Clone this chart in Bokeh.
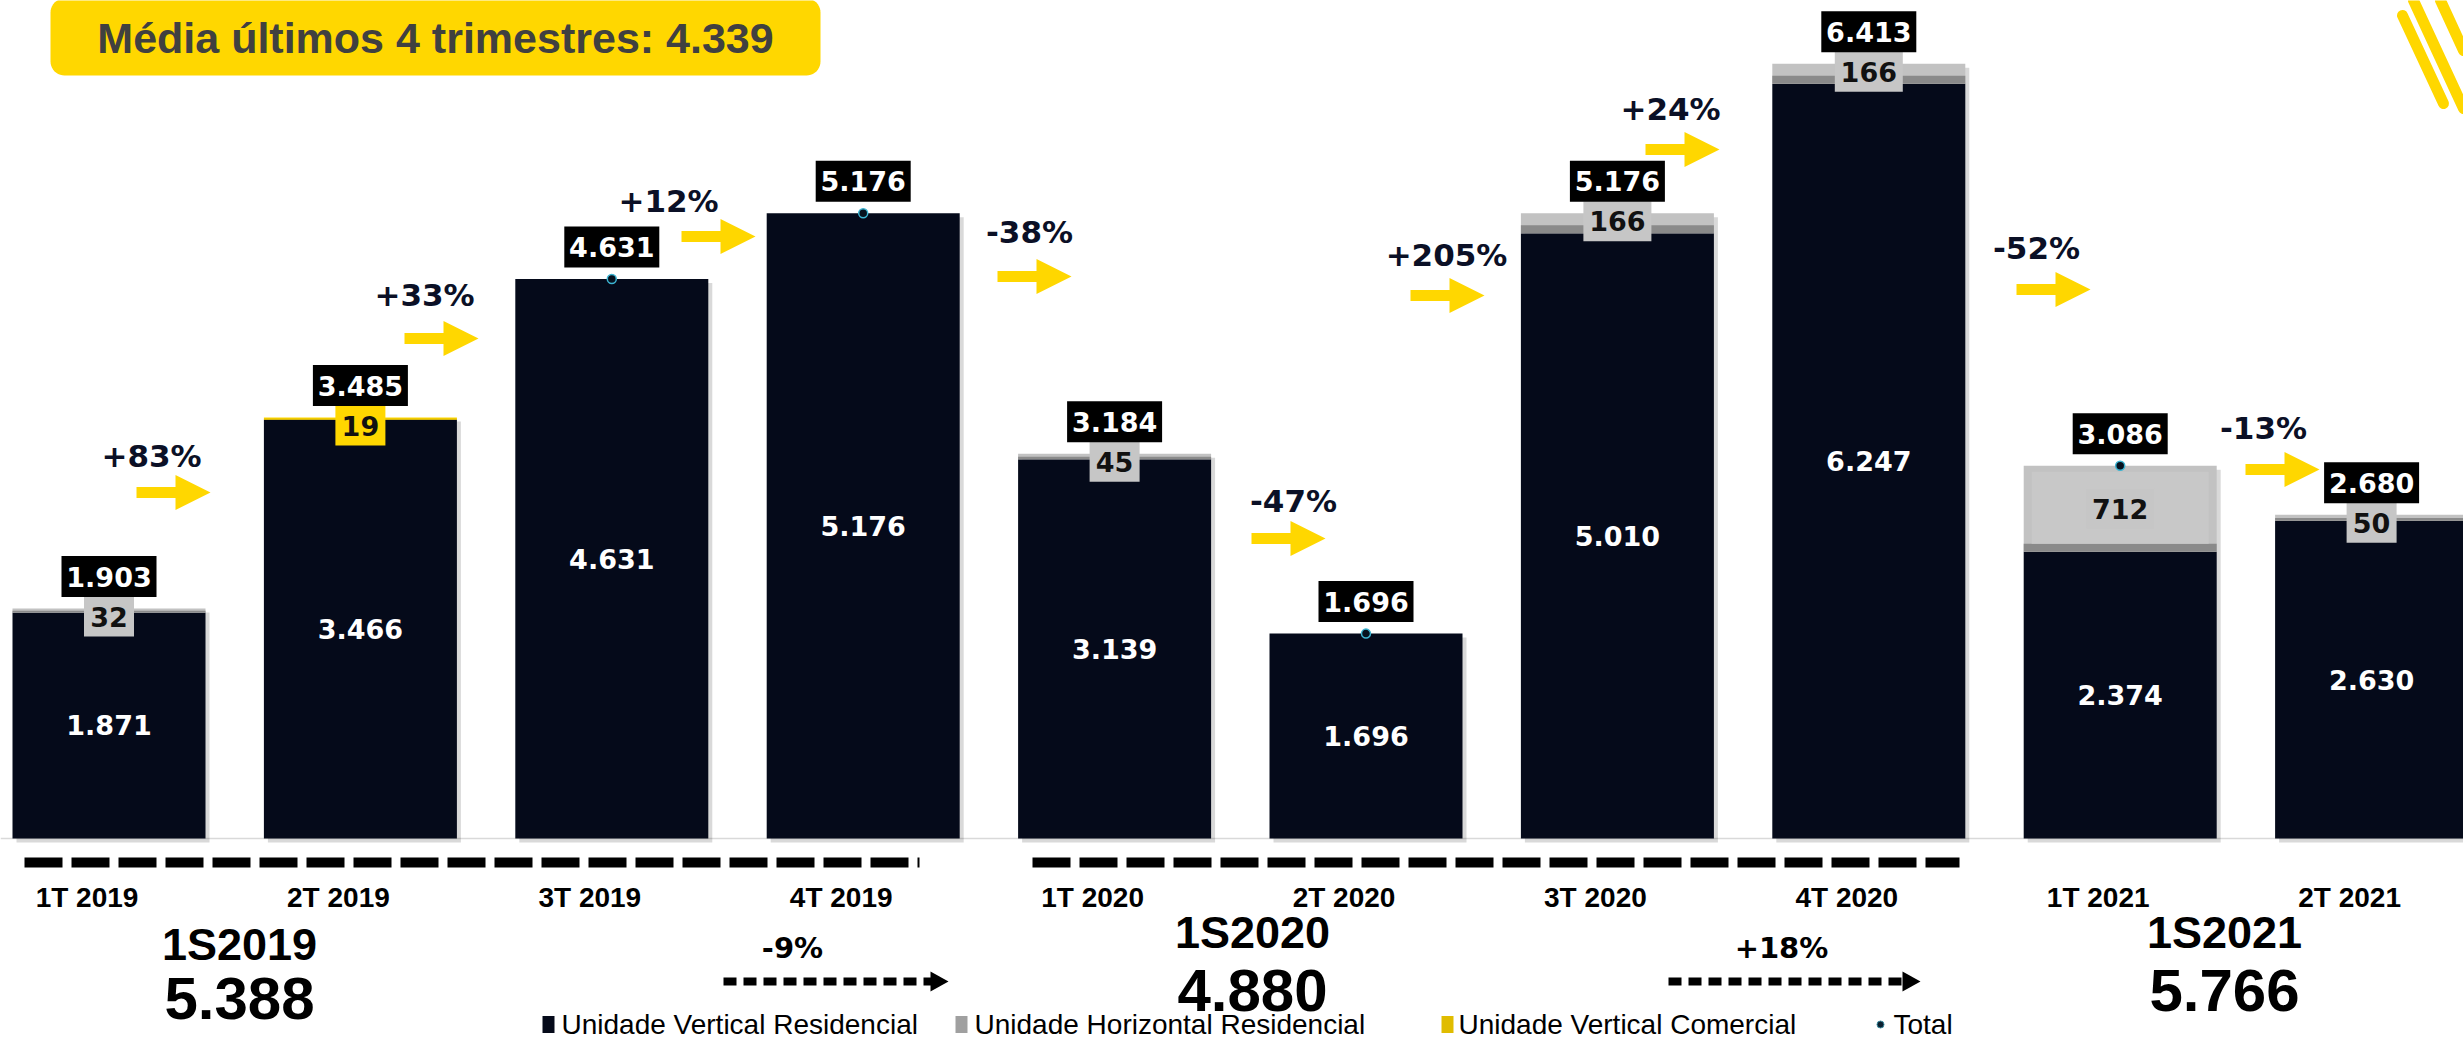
import math
from bokeh.plotting import figure
from bokeh.models import Range1d
from bokeh.embed import file_html
from bokeh.resources import INLINE
from bokeh.core.properties import value

# ---------------- data ----------------
quarters = ["1T 2019", "2T 2019", "3T 2019", "4T 2019", "1T 2020",
            "2T 2020", "3T 2020", "4T 2020", "1T 2021", "2T 2021"]
vertical_residencial = [1871, 3466, 4631, 5176, 3139, 1696, 5010, 6247, 2374, 2630]
horizontal_residencial = [32, 0, 0, 0, 45, 0, 166, 166, 712, 50]
vertical_comercial = [0, 19, 0, 0, 0, 0, 0, 0, 0, 0]
totals = [1903, 3485, 4631, 5176, 3184, 1696, 5176, 6413, 3086, 2680]
qoq_changes = ["+83%", "+33%", "+12%", "-38%", "-47%", "+205%", "+24%", "-52%", "-13%"]
semesters = ["1S2019", "1S2020", "1S2021"]
semester_totals = ["5.388", "4.880", "5.766"]
semester_changes = ["-9%", "+18%"]
headline = "Média últimos 4 trimestres: 4.339"
legend_labels = ["Unidade Vertical Residencial", "Unidade Horizontal Residencial",
                 "Unidade Vertical Comercial", "Total"]

# ---------------- layout (page pixels) ----------------
W, H, M = 2463, 1040, 0
BAR0, STEP, BASE, PXU = 108.5, 251.4, 838.0, 0.1208
BAR_W = 193


def X(px):
    return (px - BAR0) / STEP


def Y(py):
    return (BASE - py) / PXU


def dX(n):
    return n / STEP


def dY(n):
    return n / PXU


DARK = "#050a1a"
YELLOW = "#FFD700"
GREY = "#c2c2c2"
GREY_DK = "#8a8a8a"
NUM_FONT = value("DejaVu Sans")
TXT_FONT = value("Liberation Sans")


def fmt(v):
    return f"{v:,}".replace(",", ".")


p = figure(width=W, height=H, x_range=Range1d(X(M), X(M + W)),
           y_range=Range1d(Y(M + H), Y(M)), output_backend="svg",
           toolbar_location=None, min_border=0, x_axis_location=None,
           y_axis_location=None, outline_line_color=None,
           background_fill_color="white", border_fill_color="white")
p.grid.visible = False

idx = list(range(len(quarters)))
bw = BAR_W / STEP

# ---- headline box ----
def rounded_rect(x0, y0, x1, y1, r, n=10):
    pts = []
    corners = [(x1 - r, y0 + r, -90, 0), (x1 - r, y1 - r, 0, 90),
               (x0 + r, y1 - r, 90, 180), (x0 + r, y0 + r, 180, 270)]
    for cx, cy, a0, a1 in corners:
        for k in range(n + 1):
            a = math.radians(a0 + (a1 - a0) * k / n)
            pts.append((cx + r * math.cos(a), cy + r * math.sin(a)))
    return [X(a) for a, b in pts], [Y(b) for a, b in pts]

bx, by = rounded_rect(50, -2, 820, 75, 14)
p.patch(bx, by, fill_color=YELLOW, line_color=None)
p.text(x=[X(435)], y=[Y(37)], text=[headline], text_font=TXT_FONT,
       text_font_size="43px", text_font_style="bold", text_color="#404040",
       text_align="center", text_baseline="middle")

# ---- decorative stripes top right ----
for (x0, y0, x1, y1) in [(2402, 15, 2443, 103), (2413, 0, 2463, 108), (2440, 0, 2463, 50)]:
    p.line([X(x0), X(x1)], [Y(y0), Y(y1)], line_color=YELLOW, line_width=11, line_cap="round")

# ---- baseline ----
p.line([X(M), X(M + W)], [0, 0], line_color="#d9d9d9", line_width=1.5)

# ---- bars ----
p.vbar(x=[i + dX(4) for i in idx], width=bw, bottom=-dY(4),
       top=[t - dY(4) for t in totals], fill_color="black", fill_alpha=0.15, line_color=None)
p.vbar(x=idx, width=bw, bottom=0, top=vertical_residencial, fill_color=DARK, line_color=None)

seg_x, seg_y, seg_txt, seg_w, seg_fill = [], [], [], [], []
for i in idx:
    base = vertical_residencial[i]
    for vals, col, band in [(horizontal_residencial, GREY, GREY_DK), (vertical_comercial, YELLOW, "#c9a800")]:
        v = vals[i]
        if v <= 0:
            continue
        bot, top = base, base + v
        p.vbar(x=[i], width=bw, bottom=[bot], top=[top], fill_color=col, line_color=None)
        hpx = v * PXU
        bpx = min(8.0, hpx * 0.45)
        p.vbar(x=[i], width=bw, bottom=[bot], top=[bot + dY(bpx)], fill_color=band, line_color=None)
        if hpx > 40:
            p.vbar(x=[i], width=bw - dX(16), bottom=[bot + dY(bpx)], top=[top - dY(6)],
                   fill_color="#c8c8c8", line_color=None)
            yy = (bot + top) / 2
        else:
            yy = top - dY(8)
        s = fmt(v)
        seg_x.append(i)
        seg_y.append(yy)
        seg_txt.append(s)
        seg_w.append(14 + 18 * len(s))
        seg_fill.append("#c6c6c6" if col == GREY else YELLOW)
        base = top

# values inside dark bars
p.text(x=idx, y=[v / 2 for v in vertical_residencial], text=[fmt(v) for v in vertical_residencial],
       text_font=NUM_FONT, text_font_size="27px", text_font_style="bold", text_color="white",
       text_align="center", text_baseline="middle")

# total markers
p.scatter(x=idx, y=totals, marker="circle", size=9, fill_color="#06121f",
          line_color="#3cb4d2", line_width=1.5)

# segment labels
p.rect(x=seg_x, y=seg_y, width=seg_w, height=40, width_units="screen", height_units="screen",
       fill_color=seg_fill, line_color=None)
p.text(x=seg_x, y=seg_y, text=seg_txt, text_font=NUM_FONT, text_font_size="27px",
       text_font_style="bold", text_color="#111111", text_align="center", text_baseline="middle")

# total labels
tot_y = [t + dY(32) for t in totals]
p.rect(x=idx, y=tot_y, width=95, height=41, width_units="screen", height_units="screen",
       fill_color="black", line_color=None)
p.text(x=idx, y=tot_y, text=[fmt(t) for t in totals], text_font=NUM_FONT, text_font_size="27px",
       text_font_style="bold", text_color="white", text_align="center", text_baseline="middle")

# ---- quarter-on-quarter change annotations ----
arrow_pos = [(173, 492), (441, 338), (718, 236), (1034, 276), (1288, 538),
             (1447, 295), (1682, 149), (2053, 289), (2282, 469)]
text_pos = [(151, 455), (424, 294), (668, 200), (1029, 231), (1293, 500),
            (1446, 254), (1670, 108), (2036, 247), (2263, 427)]
axs, ays = [], []
for cx, cy in arrow_pos:
    pts = [(cx - 37, cy - 5.5), (cx + 2, cy - 5.5), (cx + 2, cy - 17.5), (cx + 37, cy),
           (cx + 2, cy + 17.5), (cx + 2, cy + 5.5), (cx - 37, cy + 5.5)]
    axs.append([X(a) for a, b in pts])
    ays.append([Y(b) for a, b in pts])
p.patches(axs, ays, fill_color=YELLOW, line_color=None)
p.text(x=[X(a) for a, b in text_pos], y=[Y(b) for a, b in text_pos], text=qoq_changes,
       text_font=NUM_FONT, text_font_size="31px", text_font_style="bold", text_color="#0b1026",
       text_align="center", text_baseline="middle")

# ---- bottom: dashed brackets, quarter labels ----
for x0, x1 in [(24, 919), (1032, 1959)]:
    p.line([X(x0), X(x1)], [Y(862), Y(862)], line_color="black", line_width=10,
           line_dash="38 9", line_cap="butt")

p.text(x=idx, y=[Y(897)] * len(idx), x_offset=-22, text=quarters, text_font=TXT_FONT,
       text_font_size="28px", text_font_style="bold", text_color="black",
       text_align="center", text_baseline="middle")

sem_pos = [(239, 944, 998), (1252, 932, 990), (2224, 932, 990)]
p.text(x=[X(a) for a, b, c in sem_pos], y=[Y(b) for a, b, c in sem_pos], text=semesters,
       text_font=TXT_FONT, text_font_size="45px", text_font_style="bold", text_color="black",
       text_align="center", text_baseline="middle")
p.text(x=[X(a) for a, b, c in sem_pos], y=[Y(c) for a, b, c in sem_pos], text=semester_totals,
       text_font=TXT_FONT, text_font_size="60px", text_font_style="bold", text_color="black",
       text_align="center", text_baseline="middle")

sem_chg_pos = [(792, 947, 723, 948), (1781, 947, 1668, 1920)]
p.text(x=[X(a) for a, b, c, d in sem_chg_pos], y=[Y(b) for a, b, c, d in sem_chg_pos],
       text=semester_changes, text_font=NUM_FONT, text_font_size="29px", text_font_style="bold",
       text_color="black", text_align="center", text_baseline="middle")
for _, _, x0, x1 in sem_chg_pos:
    p.line([X(x0), X(x1 - 16)], [Y(981), Y(981)], line_color="black", line_width=8,
           line_dash="13 7", line_cap="butt")
    p.patch([X(x1 - 18), X(x1), X(x1 - 18)], [Y(971), Y(981), Y(991)],
            fill_color="black", line_color=None)

# ---- legend ----
leg_y = 1024
leg_marker_x = [548, 961, 1447]
leg_cols = [DARK, "#a0a0a0", "#e0bc00"]
p.rect(x=[X(a) for a in leg_marker_x], y=[Y(leg_y)] * 3, width=12, height=17,
       width_units="screen", height_units="screen", fill_color=leg_cols, line_color=None)
p.scatter(x=[X(1880)], y=[Y(leg_y)], marker="circle", size=7, fill_color="#0a2030",
          line_color="#3c8ca0")
leg_text_x = [561, 974, 1458, 1893]
p.text(x=[X(a) for a in leg_text_x], y=[Y(leg_y)] * 4, text=legend_labels, text_font=TXT_FONT,
       text_font_size="28px", text_color="black", text_align="left", text_baseline="middle")

open("out.html", "w").write(file_html(p, INLINE))
